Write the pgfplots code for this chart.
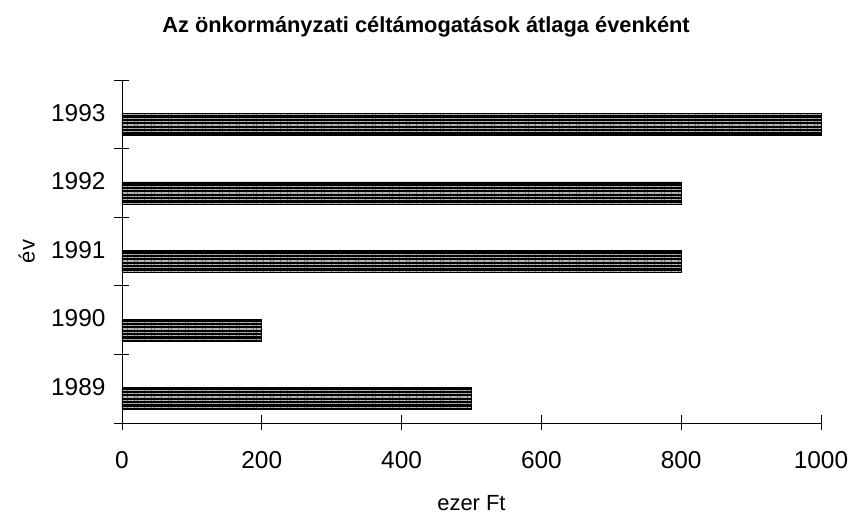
\documentclass[border=0pt]{standalone}
\usepackage{fontspec}
\setmainfont{Liberation Sans}
\usepackage{pgfplots}
\pgfplotsset{compat=1.18}
\usetikzlibrary{patterns.meta}

% bar positions sit slightly below each category centre
\pgfplotstableread{
pos year value
-0.146 1989 500
0.854 1990 200
1.854 1991 800
2.854 1992 800
3.854 1993 1000
}\celdata

\begin{document}
\begin{tikzpicture}
\begin{axis}[
  scale only axis,
  width=699bp, height=343bp,
  xmin=0, xmax=1000,
  ymin=-0.5, ymax=4.5,
  axis x line=bottom, axis y line=left,
  axis line style={-, black, line width=0.7pt},
  xtick={0,200,...,1000},
  ytick={-0.5,0.5,...,4.5},
  yticklabels={},
  extra y ticks={0,1,2,3,4},
  extra y tick labels={1989,1990,1991,1992,1993},
  extra y tick style={major tick length=0pt},
  tick align=center,
  major tick length=15bp,
  tick style={black, line width=0.7pt},
  /pgf/number format/assume math mode=true,
  /pgf/number format/1000 sep={},
  ticklabel style={font=\fontsize{24.5}{29}\selectfont},
  yticklabel style={xshift=-13bp, yshift=1.5bp},
  xticklabel style={yshift=-17bp},
  xlabel={ezer Ft},
  ylabel={év},
  label style={font=\fontsize{22}{26}\selectfont},
  xlabel style={inner sep=0pt, yshift=-23.5bp},
  ylabel style={yshift=2bp},
  title={\bfseries Az önkormányzati céltámogatások átlaga évenként},
  title style={font=\fontsize{21.9}{26}\selectfont, at={(rel axis cs:0.435,1)}, yshift=33bp},
  clip=false,
]
\coordinate (pageSW) at (rel axis cs:-0.1745,-0.2711);
\coordinate (pageNE) at (rel axis cs:1.0415,1.2332);
\addplot[xbar, bar width=0.32, draw=black, line width=0.6pt, fill=black,
  postaction={pattern={Lines[distance=3.4bp, angle=0, line width=1.1bp]}, pattern color=gray!60}]
  table[x=value, y=pos] {\celdata};
\end{axis}
\pgfresetboundingbox
\path (pageSW) rectangle (pageNE);
\end{tikzpicture}
\end{document}
